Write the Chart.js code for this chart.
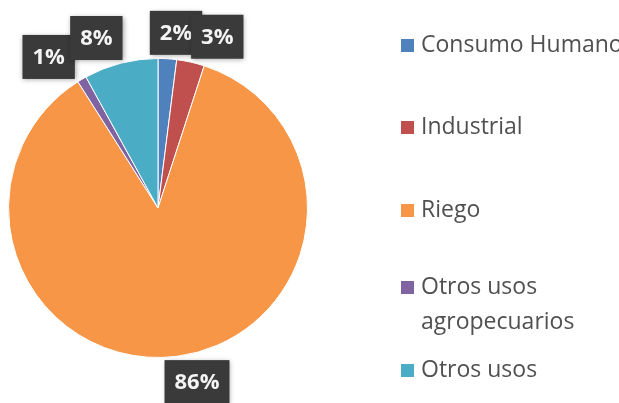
<!DOCTYPE html>
<html>
<head>
<meta charset="utf-8">
<script src="https://cdn.jsdelivr.net/npm/chart.js@4/dist/chart.umd.min.js"></script>
<style>
  html, body { margin: 0; padding: 0; background: #fff; }
  #wrap { width: 619px; height: 403px; }
</style>
</head>
<body>
<div id="wrap"><canvas id="c" width="619" height="403"></canvas></div>
<script>
// categorías y porcentajes
const labels = ['Consumo Humano', 'Industrial', 'Riego', 'Otros usos agropecuarios', 'Otros usos'];
const legendLines = [['Consumo Humano'], ['Industrial'], ['Riego'], ['Otros usos', 'agropecuarios'], ['Otros usos']];
const values = [2, 3, 86, 1, 8];
const colors = ['#4f81bd', '#c0504d', '#f79646', '#8064a2', '#4bacc6'];

// ajustes de layout (no datos)
const FONT = '"Open Sans", "Noto Sans", sans-serif';
const labelRadiusOffset = 26;            // etiquetas por fuera del pastel
const labelNudgeX = [7, 21, 17, -20, -18]; // como los callouts de Excel
const legendRowY = [45, 127, 210, 287, 370];

const calloutPlugin = {
  id: 'callouts',
  afterDatasetsDraw(chart) {
    const ctx = chart.ctx;
    const arcs = chart.getDatasetMeta(0).data;
    ctx.save();
    ctx.font = 'bold 22px ' + FONT;
    ctx.textAlign = 'center';
    ctx.textBaseline = 'middle';
    arcs.forEach((a, i) => {
      const mid = (a.startAngle + a.endAngle) / 2;
      const r = a.outerRadius + labelRadiusOffset;
      const x = a.x + Math.cos(mid) * r + labelNudgeX[i];
      const y = a.y + Math.sin(mid) * r;
      const txt = values[i] + '%';
      const w = ctx.measureText(txt).width + 20;
      const h = 44;
      ctx.shadowColor = 'rgba(0,0,0,0.35)';
      ctx.shadowBlur = 5;
      ctx.shadowOffsetX = 1;
      ctx.shadowOffsetY = 1;
      ctx.fillStyle = '#3a3a3a';
      ctx.fillRect(x - w / 2, y - h / 2, w, h);
      ctx.shadowColor = 'transparent';
      ctx.fillStyle = '#f4f4f4';
      ctx.fillText(txt, x, y + 1);
    });
    ctx.restore();
  }
};

const legendPlugin = {
  id: 'sideLegend',
  afterDraw(chart) {
    const ctx = chart.ctx;
    ctx.save();
    ctx.font = '23px ' + FONT;
    ctx.textBaseline = 'middle';
    ctx.textAlign = 'left';
    legendLines.forEach((lines, i) => {
      const y = legendRowY[i];
      ctx.fillStyle = colors[i];
      ctx.fillRect(401, y - 6, 13, 13);
      ctx.fillStyle = '#505050';
      lines.forEach((ln, k) => ctx.fillText(ln, 421, y + k * 35));
    });
    ctx.restore();
  }
};

new Chart(document.getElementById('c'), {
  type: 'pie',
  data: {
    labels,
    datasets: [{
      data: values,
      backgroundColor: colors,
      borderColor: '#ffffff',
      borderWidth: 1
    }]
  },
  options: {
    responsive: false,
    animation: false,
    layout: { padding: { left: 8, right: 311, top: 58, bottom: 45 } },
    plugins: { legend: { display: false }, tooltip: { enabled: false } }
  },
  plugins: [calloutPlugin, legendPlugin]
});
</script>
</body>
</html>
